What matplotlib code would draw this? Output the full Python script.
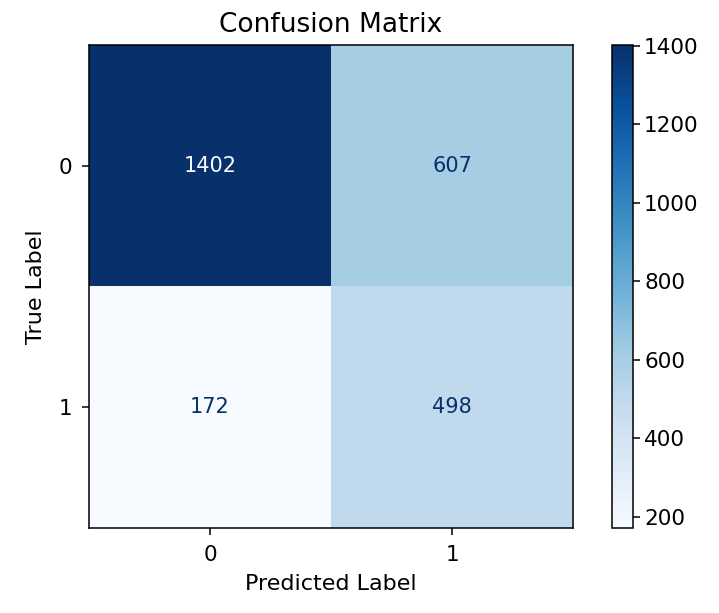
import numpy as np
import matplotlib
matplotlib.use("Agg")
import matplotlib.pyplot as plt

classes = ["0", "1"]
row0 = [1402, 607]
row1 = [172, 498]
cm = np.array([row0, row1])

plt.rcParams["font.family"] = ["DejaVu Sans"]

fig = plt.figure(figsize=(7.19, 6.13), dpi=100)
ax = fig.add_axes([89/719, 1-528/613, (573-89)/719, (528-45)/613])
cax = fig.add_axes([612/719, 1-528/613, (633-612)/719, (528-45)/613])

cmap = plt.get_cmap("Blues")
im = ax.imshow(cm, cmap=cmap, interpolation="nearest", aspect="auto")
vmin, vmax = cm.min(), cm.max()
thresh = (vmax + vmin) / 2.0
for i in range(cm.shape[0]):
    for j in range(cm.shape[1]):
        color = cmap(0.0) if cm[i, j] > thresh else cmap(1.0)
        ax.text(j, i, f"{cm[i, j]}", ha="center", va="center", color=color, fontsize=15)

cb = fig.colorbar(im, cax=cax)
cb.set_ticks([200, 400, 600, 800, 1000, 1200, 1400])
cb.ax.tick_params(labelsize=15.5, length=5, width=1.1, pad=3)
cb.outline.set_linewidth(1.1)

ax.set_xticks(range(len(classes)))
ax.set_yticks(range(len(classes)))
ax.set_xticklabels(classes)
ax.set_yticklabels(classes)
ax.tick_params(labelsize=15.5, length=5, width=1.1, pad=7)
for s in ax.spines.values():
    s.set_linewidth(1.1)
ax.set_xlabel("Predicted Label", fontsize=16, labelpad=7)
ax.set_ylabel("True Label", fontsize=16, labelpad=9)
ax.set_title("Confusion Matrix", fontsize=19, pad=9)

fig.savefig("out.png", dpi=100)
